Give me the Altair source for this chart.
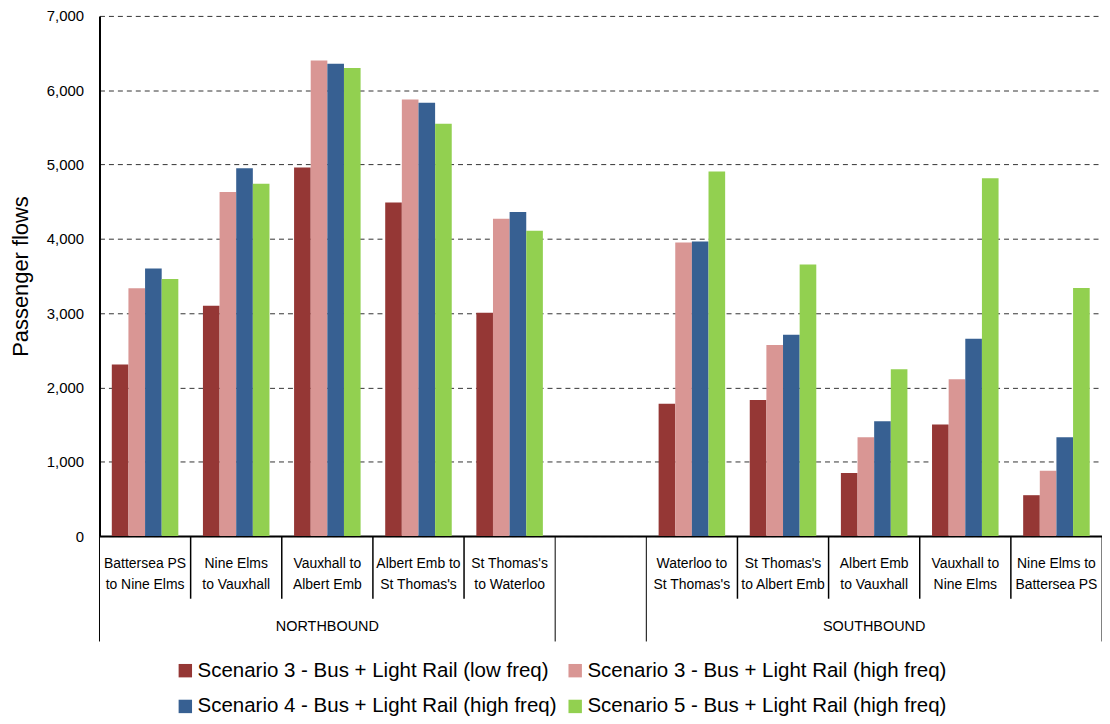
import altair as alt
import pandas as pd

# ---- data ----
nb_labels = ["Battersea PS\nto Nine Elms", "Nine Elms\nto Vauxhall", "Vauxhall to\nAlbert Emb",
             "Albert Emb to\nSt Thomas's", "St Thomas's\nto Waterloo"]
sb_labels = ["Waterloo to\nSt Thomas's", "St Thomas's\nto Albert Emb", "Albert Emb\nto Vauxhall",
             "Vauxhall to\nNine Elms", "Nine Elms to\nBattersea PS"]
group_names = ["NORTHBOUND", "SOUTHBOUND"]
scenarios = ["Scenario 3 - Bus + Light Rail (low freq)", "Scenario 3 - Bus + Light Rail (high freq)",
             "Scenario 4 - Bus + Light Rail (high freq)", "Scenario 5 - Bus + Light Rail (high freq)"]
colors = ["#953735", "#D99694", "#376092", "#92D050"]

s3_low = [2310, 3100, 4960, 4490, 3005, 1780, 1830, 850, 1500, 550]
s3_high = [3335, 4630, 6400, 5875, 4270, 3950, 2570, 1330, 2110, 880]
s4_high = [3600, 4950, 6355, 5830, 4360, 3965, 2710, 1545, 2655, 1330]
s5_high = [3460, 4740, 6300, 5550, 4110, 4905, 3655, 2245, 4815, 3340]
y_ticks = [0, 1000, 2000, 3000, 4000, 5000, 6000, 7000]

# ---- tables ----
GAP = "gap"
slot_keys = nb_labels + [GAP] + sb_labels
routes = nb_labels + sb_labels
rows = []
for name, vals in zip(scenarios, [s3_low, s3_high, s4_high, s5_high]):
    for r, v in zip(routes, vals):
        rows.append({"route": r, "scenario": name, "flow": v})
bars_df = pd.DataFrame(rows)

# legend is laid out column by column: order entries so rows read as in the reference
legend_order = [scenarios[0], scenarios[2], scenarios[1], scenarios[3]]
legend_colors = [colors[scenarios.index(s)] for s in legend_order]

n_slots = len(slot_keys)
label_df = pd.DataFrame({"pos": [slot_keys.index(r) + 0.5 for r in routes], "label": routes})
long_idx = [0, len(nb_labels), len(nb_labels) + 1, n_slots]
short_df = pd.DataFrame({"pos": [i for i in range(n_slots + 1) if i not in long_idx]})
long_df = pd.DataFrame({"pos": long_idx})
group_df = pd.DataFrame({"pos": [len(nb_labels) / 2, len(nb_labels) + 1 + len(sb_labels) / 2],
                         "label": group_names})

W, H = 1008, 523
FONT = "Liberation Sans"
xq = alt.Scale(domain=[0, n_slots], nice=False, zero=False)

bars = alt.Chart(bars_df).mark_bar().encode(
    x=alt.X("route:N", sort=slot_keys,
            scale=alt.Scale(domain=slot_keys, paddingInner=0.27, paddingOuter=0.135),
            axis=alt.Axis(labels=False, ticks=False, title=None, domainColor="black",
                          domainWidth=2, grid=False)),
    xOffset=alt.XOffset("scenario:N", sort=scenarios,
                        scale=alt.Scale(domain=scenarios, paddingInner=0, paddingOuter=0)),
    y=alt.Y("flow:Q", scale=alt.Scale(domain=[0, 7000], nice=False),
            axis=alt.Axis(values=y_ticks, format=",.0f", title="Passenger flows", ticks=False,
                          grid=True, gridDash=[5, 4], gridColor="#333333", gridWidth=1,
                          domainColor="black", domainWidth=2,
                          labelFont=FONT, labelFontSize=15, labelColor="#000", labelPadding=16,
                          titleFont=FONT, titleFontSize=22, titleFontWeight="normal",
                          titleColor="#000", titlePadding=14)),
    color=alt.Color("scenario:N",
                    scale=alt.Scale(domain=legend_order, range=legend_colors),
                    legend=alt.Legend(title=None, orient="none", legendX=76, legendY=648,
                                      columns=2, padding=0, symbolType="square", symbolSize=182,
                                      symbolStrokeWidth=0, symbolOpacity=1, labelFont=FONT,
                                      labelFontSize=20.6, labelColor="#000", labelLimit=0,
                                      rowPadding=15, columnPadding=8, labelOffset=2)),
)

rules_short = alt.Chart(short_df).mark_rule(color="black", strokeWidth=1.5).encode(
    x=alt.X("pos:Q", scale=xq, axis=None), y=alt.value(H), y2=alt.value(H + 63))
rules_long = alt.Chart(long_df).mark_rule(color="black", strokeWidth=1).encode(
    x=alt.X("pos:Q", scale=xq, axis=None), y=alt.value(H), y2=alt.value(H + 106))
cat_text = alt.Chart(label_df).mark_text(font=FONT, fontSize=14, lineBreak="\n", lineHeight=21,
                                         baseline="alphabetic", align="center", color="#000").encode(
    x=alt.X("pos:Q", scale=xq, axis=None), y=alt.value(H + 32), text="label:N")
grp_text = alt.Chart(group_df).mark_text(font=FONT, fontSize=14.5, baseline="alphabetic",
                                         align="center", color="#000").encode(
    x=alt.X("pos:Q", scale=xq, axis=None), y=alt.value(H + 95), text="label:N")

chart = alt.layer(bars, rules_short, rules_long, cat_text, grp_text).resolve_scale(
    x="independent"
).properties(
    width=W, height=H,
    autosize=alt.AutoSizeParams(type="none"),
    padding={"left": 92, "top": 6, "right": 0, "bottom": 185},
).configure_view(stroke=None)

chart.save("out.html", embed_options={"renderer": "svg", "actions": False})
